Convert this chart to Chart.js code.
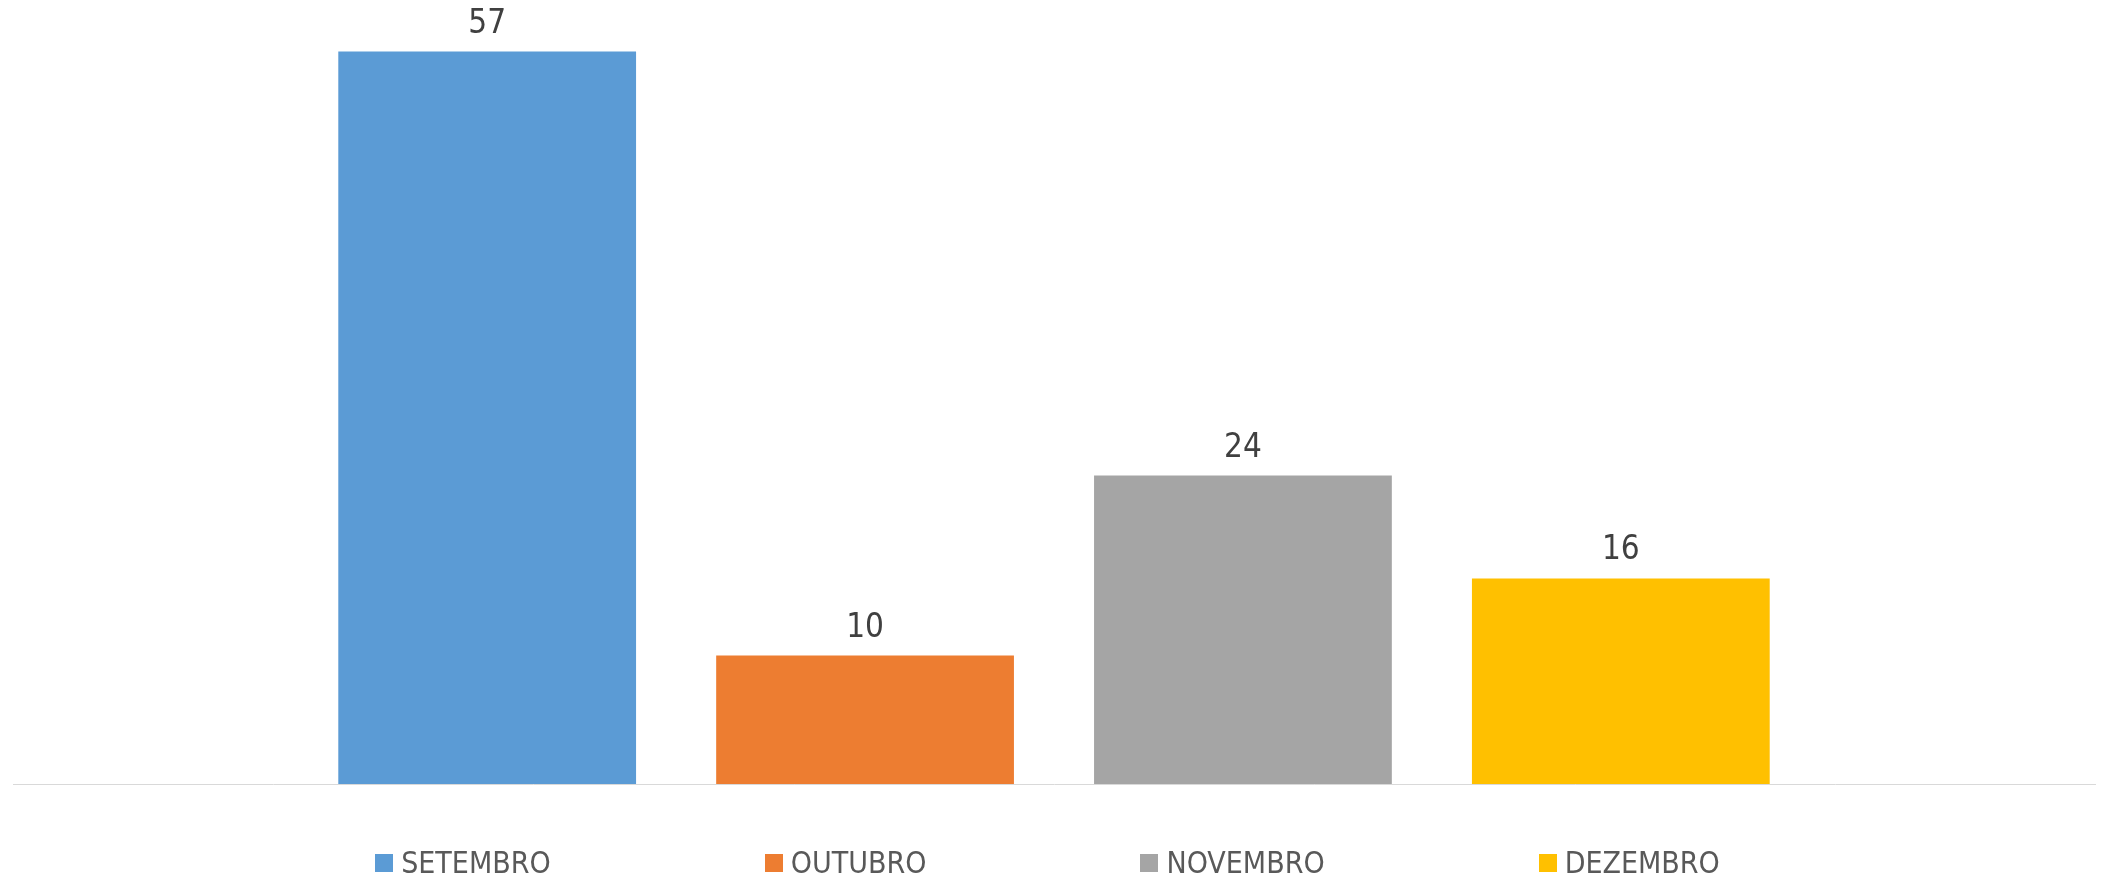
<!DOCTYPE html>
<html lang="pt-BR">
<head>
<meta charset="utf-8">
<script src="https://cdn.jsdelivr.net/npm/chart.js@4.4.1/dist/chart.umd.min.js"></script>
<style>
  html, body { margin: 0; padding: 0; background: #fff; }
  #wrap { position: relative; width: 2108px; height: 878px; }
  #legenda {
    position: absolute; left: 0; right: 0; top: 849px;
    display: flex; justify-content: center; gap: 214px;
    padding-right: 13px;
    font-family: "Liberation Sans Narrow", "DejaVu Sans Condensed", sans-serif;
    font-size: 30px; color: #595959;
  }
  #legenda .item { display: flex; align-items: center; gap: 8px; line-height: 28px; }
  #legenda .box { width: 18px; height: 18px; display: inline-block; }
</style>
</head>
<body>
<div id="wrap">
  <canvas id="grafico" width="2108" height="878"></canvas>
  <div id="legenda"></div>
</div>
<script>
// dados
const meses = ['SETEMBRO', 'OUTUBRO', 'NOVEMBRO', 'DEZEMBRO'];
const valores = [57, 10, 24, 16];
const cores = ['#5B9BD5', '#ED7D31', '#A5A5A5', '#FFC000'];
const yMax = 60;

const FONTE = '"Liberation Sans Narrow", "DejaVu Sans Condensed", sans-serif';

// rótulos de valor acima das barras
const rotulos = {
  id: 'rotulos',
  afterDatasetsDraw(chart) {
    const ctx = chart.ctx;
    ctx.save();
    ctx.font = `33px ${FONTE}`;
    ctx.fillStyle = '#404040';
    ctx.textAlign = 'center';
    ctx.textBaseline = 'alphabetic';
    chart.data.datasets.forEach((ds, i) => {
      chart.getDatasetMeta(i).data.forEach((el, j) => {
        ctx.fillText(String(ds.data[j]), el.x, el.y - 19);
      });
    });
    ctx.restore();
  }
};

const datasets = meses.map((m, i) => ({
  label: m,
  data: [valores[i]],
  backgroundColor: cores[i],
  borderWidth: 0,
  categoryPercentage: 0.726,
  barPercentage: 0.788
}));

const chart = new Chart(document.getElementById('grafico'), {
  type: 'bar',
  data: { labels: [''], datasets },
  options: {
    responsive: false,
    animation: false,
    devicePixelRatio: 1,
    layout: { padding: { left: 13, right: 13, top: 13, bottom: 94 } },
    plugins: { legend: { display: false }, tooltip: { enabled: false } },
    scales: {
      x: {
        ticks: { display: false },
        grid: { display: false, drawTicks: false, tickLength: 0 },
        border: { display: true, color: '#D9D9D9', width: 1 }
      },
      y: { display: false, min: 0, max: yMax }
    }
  },
  plugins: [rotulos]
});

// legenda em HTML
document.getElementById('legenda').innerHTML = chart.data.datasets.map(ds =>
  `<span class="item"><span class="box" style="background:${ds.backgroundColor}"></span>${ds.label}</span>`
).join('');
</script>
</body>
</html>
